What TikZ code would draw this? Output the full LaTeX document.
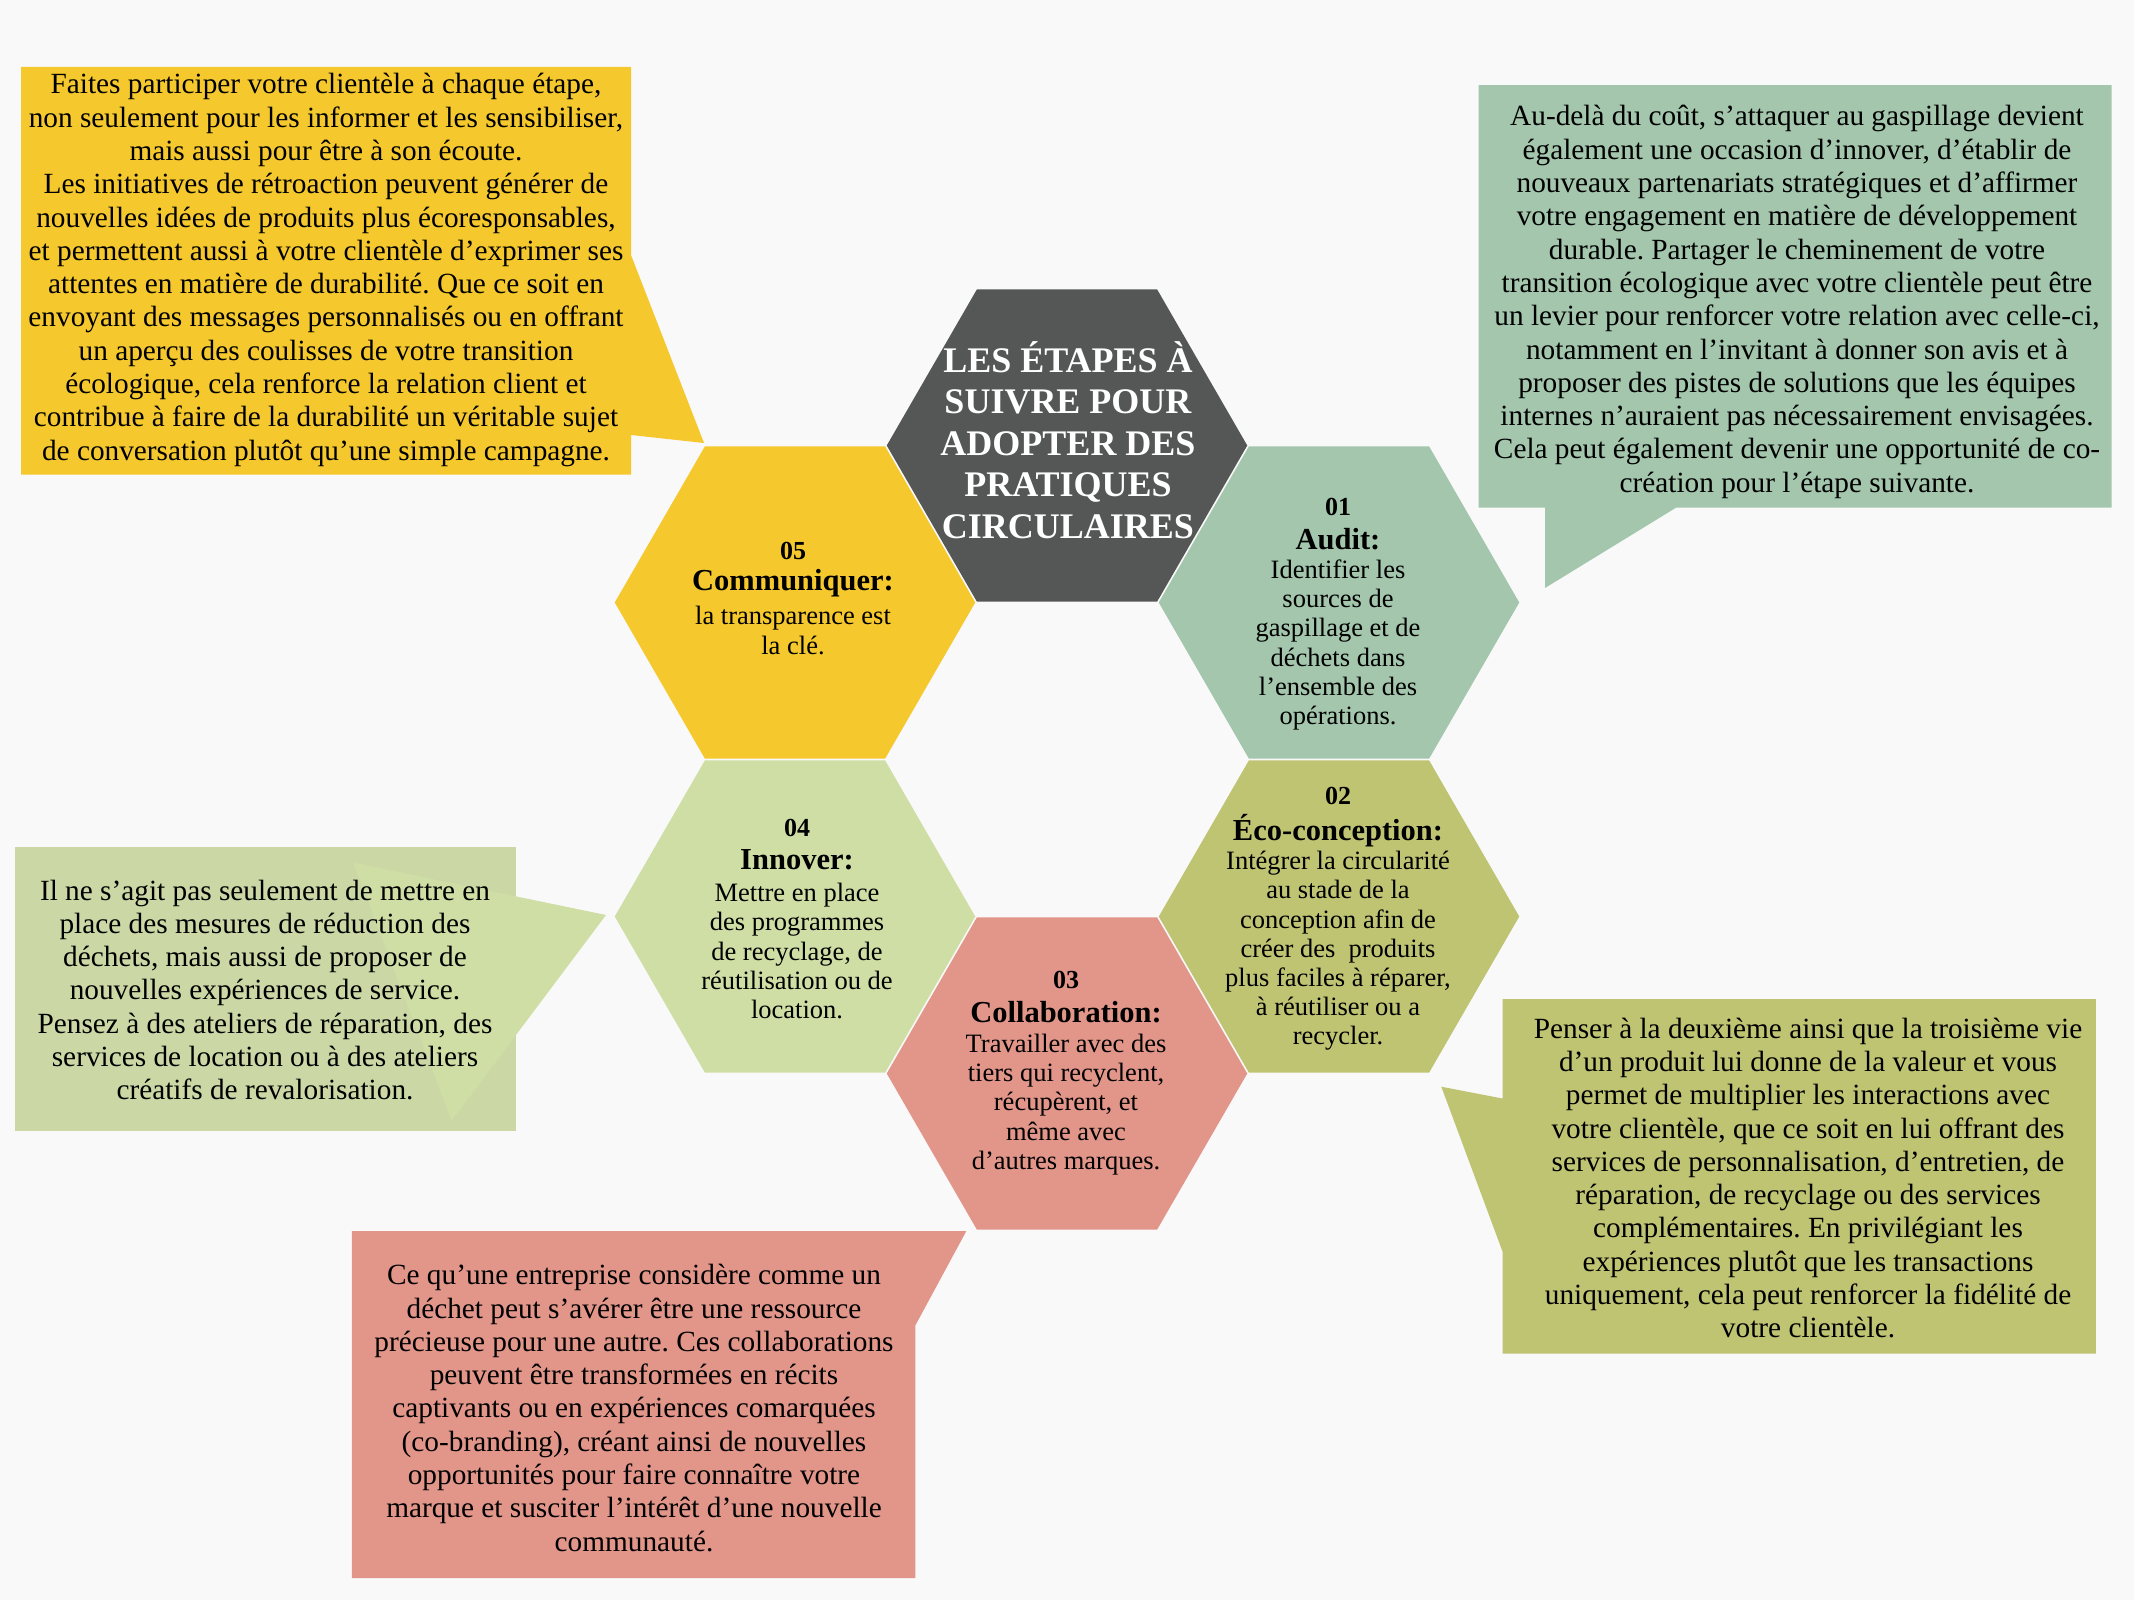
\documentclass[tikz,border=0pt]{standalone}
\usepackage{fontspec}
\setmainfont{Liberation Serif}
\frenchspacing
\usetikzlibrary{shapes.geometric}
\definecolor{bgc}{HTML}{F9F9F9}
\definecolor{cdark}{HTML}{555756}
\definecolor{cyellow}{HTML}{F5C92E}
\definecolor{csage}{HTML}{A3C6AD}
\definecolor{colive}{HTML}{BFC473}
\definecolor{csalmon}{HTML}{E2968A}
\definecolor{clight}{HTML}{CFDEA5}
\definecolor{clightbox}{HTML}{CBD8A6}
\tikzset{
  hexa/.style={regular polygon, regular polygon sides=6, minimum size=360.5pt, inner sep=0pt, draw=none},
  numtxt/.style={font=\fontsize{26}{28}\selectfont\bfseries, inner sep=0pt, text=black},
  headtxt/.style={font=\fontsize{30.5}{32}\selectfont\bfseries, inner sep=0pt, text=black},
  bodytxt/.style={align=center, font=\fontsize{26.5}{29.2}\selectfont, inner sep=0pt, text=black},
  calltxt/.style={align=center, font=\fontsize{29.3}{33.3}\selectfont, inner sep=0pt, text=black},
  titletxt/.style={align=center, font=\fontsize{36}{41.6}\selectfont\bfseries, inner sep=0pt, text=white}
}
\begin{document}
\begin{tikzpicture}[x=1pt,y=-1pt]
\useasboundingbox (0,0) rectangle (2134,1600);
\fill[bgc] (0,0) rectangle (2134,1600);

% callout shapes
\fill[cyellow] (21,67) -- (631,67) -- (631,255) -- (704,443) -- (631,435) -- (631,474.5) -- (21,474.5) -- cycle;
\fill[csage] (1478.7,85.2) -- (2111.6,85.2) -- (2111.6,507.7) -- (1676,507.7) -- (1545,588) -- (1545,507.7) -- (1478.7,507.7) -- cycle;
\fill[clightbox] (15,847) rectangle (516,1130.7);
\fill[clight] (353.3,862.7) -- (606,915) -- (451.7,1120.7) -- cycle;
\fill[csalmon] (351.8,1231.1) -- (966.3,1231.1) -- (915.3,1325.5) -- (915.3,1578) -- (351.8,1578) -- cycle;
\fill[colive] (1502.5,999) -- (2095.9,999) -- (2095.9,1353.6) -- (1502.5,1353.6) -- (1502.5,1251.5) -- (1441.3,1086.7) -- (1502.5,1098.5) -- cycle;

% hexagons
\node[hexa, fill=cdark] (hc) at (1067,445.5) {};
\node[hexa, fill=csage] (h01) at (1339,602.5) {};
\node[hexa, fill=colive] (h02) at (1339,916.5) {};
\node[hexa, fill=csalmon] (h03) at (1067,1073.5) {};
\node[hexa, fill=clight] (h04) at (795,916.5) {};
\node[hexa, fill=cyellow] (h05) at (795,602.5) {};

% title
\node[titletxt] (tc) at (1068,440) {LES ÉTAPES À\\SUIVRE POUR\\ADOPTER DES\\PRATIQUES\\CIRCULAIRES};

% hex texts
\node[numtxt] (n05) at (793,551) {05};
\node[headtxt] (t05) at (793,583) {Communiquer:};
\node[bodytxt] (b05) at (793,630.5) {la transparence est\\la clé.};

\node[numtxt] (n01) at (1338,506.6) {01};
\node[headtxt] (t01) at (1338,539) {Audit:};
\node[bodytxt] (b01) at (1338,645) {Identifier les\\sources de\\gaspillage et de\\déchets dans\\l'ensemble des\\opérations.};

\node[numtxt] (n02) at (1338,796) {02};
\node[headtxt] (t02) at (1338,830.6) {Éco-conception:};
\node[bodytxt] (b02) at (1338,951) {Intégrer la circularité\\au stade de la\\conception afin de\\créer des~ produits\\plus faciles à réparer,\\à réutiliser ou a\\recycler.};

\node[numtxt] (n03) at (1066,980) {03};
\node[headtxt] (t03) at (1066,1012.6) {Collaboration:};
\node[bodytxt] (b03) at (1066,1104.5) {Travailler avec des\\tiers qui recyclent,\\récupèrent, et\\même avec\\d’autres marques.};

\node[numtxt] (n04) at (797,828) {04};
\node[headtxt] (t04) at (797,859.7) {Innover:};
\node[bodytxt] (b04) at (797,951) {Mettre en place\\des programmes\\de recyclage, de\\réutilisation ou de\\location.};

% callout texts
\node[calltxt] (c05) at (326,270) {Faites participer votre clientèle à chaque étape,\\non seulement pour les informer et les sensibiliser,\\mais aussi pour être à son écoute.\\Les initiatives de rétroaction peuvent générer de\\nouvelles idées de produits plus écoresponsables,\\et permettent aussi à votre clientèle d’exprimer ses\\attentes en matière de durabilité. Que ce soit en\\envoyant des messages personnalisés ou en offrant\\un aperçu des coulisses de votre transition\\écologique, cela renforce la relation client et\\contribue à faire de la durabilité un véritable sujet\\de conversation plutôt qu’une simple campagne.};

\node[calltxt] (c01) at (1797,302) {Au-delà du coût, s’attaquer au gaspillage devient\\également une occasion d’innover, d’établir de\\nouveaux partenariats stratégiques et d’affirmer\\votre engagement en matière de développement\\durable. Partager le cheminement de votre\\transition écologique avec votre clientèle peut être\\un levier pour renforcer votre relation avec celle-ci,\\notamment en l’invitant à donner son avis et à\\proposer des pistes de solutions que les équipes\\internes n’auraient pas nécessairement envisagées.\\Cela peut également devenir une opportunité de co-\\création pour l’étape suivante.};

\node[calltxt] (c04) at (265,990) {Il ne s’agit pas seulement de mettre en\\place des mesures de réduction des\\déchets, mais aussi de proposer de\\nouvelles expériences de service.\\Pensez à des ateliers de réparation, des\\services de location ou à des ateliers\\créatifs de revalorisation.};

\node[calltxt] (c03) at (634,1408) {Ce qu’une entreprise considère comme un\\déchet peut s’avérer être une ressource\\précieuse pour une autre. Ces collaborations\\peuvent être transformées en récits\\captivants ou en expériences comarquées\\(co-branding), créant ainsi de nouvelles\\opportunités pour faire connaître votre\\marque et susciter l’intérêt d’une nouvelle\\communauté.};

\node[calltxt] (c02) at (1808,1178) {Penser à la deuxième ainsi que la troisième vie\\d’un produit lui donne de la valeur et vous\\permet de multiplier les interactions avec\\votre clientèle, que ce soit en lui offrant des\\services de personnalisation, d’entretien, de\\réparation, de recyclage ou des services\\complémentaires. En privilégiant les\\expériences plutôt que les transactions\\uniquement, cela peut renforcer la fidélité de\\votre clientèle.};
\end{tikzpicture}
\end{document}
